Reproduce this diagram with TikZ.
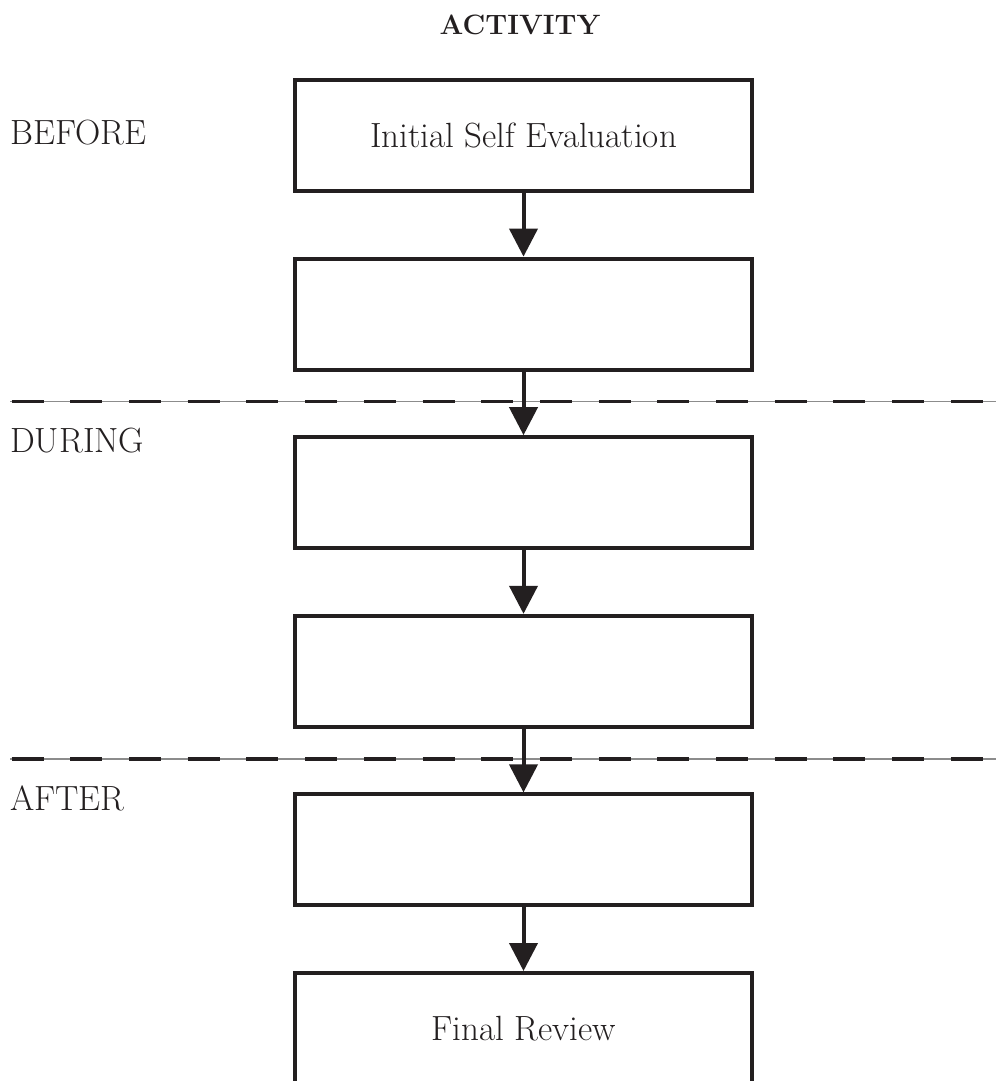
\documentclass[tikz,border=0pt]{standalone}
\usetikzlibrary{arrows.meta}
\definecolor{ink}{RGB}{35,31,32}
\definecolor{rulegray}{RGB}{140,140,140}
\begin{document}
\begin{tikzpicture}[x=1pt,y=-1pt,
  stagebox/.style={draw=ink, line width=4pt, minimum width=457pt, minimum height=111pt, inner sep=0pt, font=\fontsize{35}{42}\selectfont, text=ink},
  flow/.style={draw=ink, line width=4pt, -{Triangle[length=28pt,width=28pt]}},
  phase/.style={anchor=west, font=\fontsize{35}{42}\selectfont, inner sep=0pt, text=ink},
  septhin/.style={draw=rulegray, line width=1.3pt},
  sepdash/.style={draw=ink, line width=3.5pt, dash pattern=on 32pt off 26.7pt}]
\useasboundingbox (0,0) rectangle (996,1081);
\clip (0,0) rectangle (996,1081);
\fill[white] (0,0) rectangle (996,1081);
% title
\node[font=\bfseries\fontsize{28}{34}\selectfont, text=ink, inner sep=0pt] (title) at (520,25) {ACTIVITY};
% boxes
\node[stagebox] (b1) at (523.5,135.5) {Initial Self Evaluation};
\node[stagebox] (b2) at (523.5,314.1) {};
\node[stagebox] (b3) at (523.5,492.7) {};
\node[stagebox] (b4) at (523.5,671.3) {};
\node[stagebox] (b5) at (523.5,849.9) {};
\node[stagebox] (b6) at (523.5,1028.5) {Final Review};
% phase labels
\node[phase] (before) at (10,132.5) {BEFORE};
\node[phase] (during) at (10,441) {DURING};
\node[phase] (after) at (10,798) {AFTER};
% separators
\coordinate (s1l) at (10,401.7);
\coordinate (s1r) at (996,401.7);
\coordinate (s2l) at (10,759);
\coordinate (s2r) at (996,759);
\draw[septhin] (s1l) -- (s1r);
\draw[sepdash] ([xshift=1.6pt]s1l) -- (s1r);
\draw[septhin] (s2l) -- (s2r);
\draw[sepdash] ([xshift=1.6pt]s2l) -- (s2r);
% arrows
\draw[flow] (b1.south) -- (b2.north);
\draw[flow] (b2.south) -- (b3.north);
\draw[flow] (b3.south) -- (b4.north);
\draw[flow] (b4.south) -- (b5.north);
\draw[flow] (b5.south) -- (b6.north);
\end{tikzpicture}
\end{document}
